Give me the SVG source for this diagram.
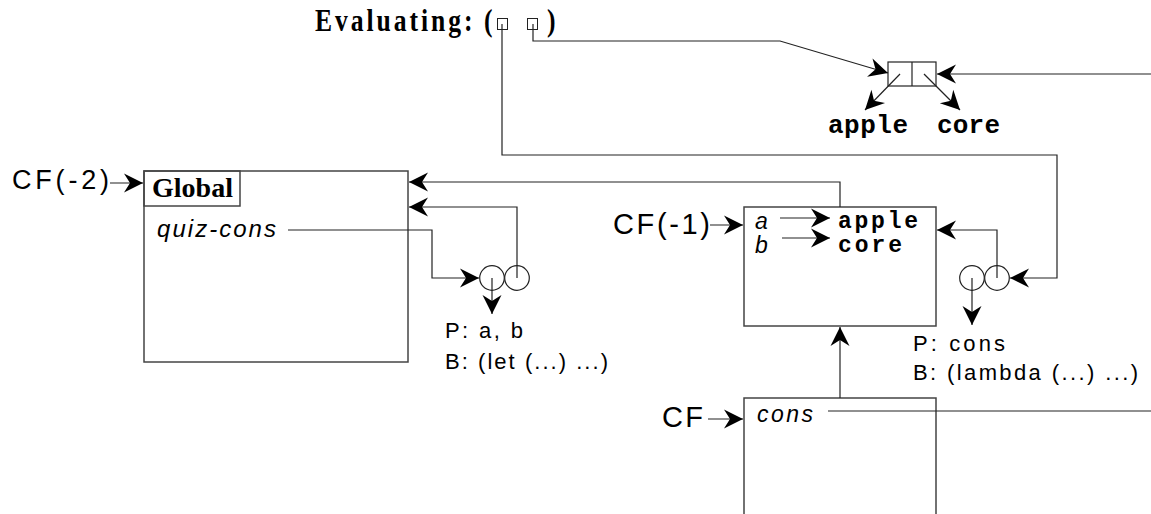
<svg xmlns="http://www.w3.org/2000/svg" width="1151" height="514" viewBox="0 0 1151 514">
<defs>
<marker id="ah" markerUnits="userSpaceOnUse" markerWidth="24" markerHeight="24" refX="21" refY="12" orient="auto">
<path d="M21,12 L2,2.5 L8,12 L2,21.5 Z" fill="#000"/>
</marker>
<style>
.ln{fill:none;stroke:#222;stroke-width:1.2}
.ar{fill:none;stroke:#222;stroke-width:1.2;marker-end:url(#ah)}
.fr{fill:#fff;stroke:#444;stroke-width:1.5}
.sans{font-family:"Liberation Sans",Arial,sans-serif;fill:#000}
.it{font-family:"Liberation Sans",Arial,sans-serif;font-style:italic;fill:#000}
.mono{font-family:"Liberation Mono","Courier New",monospace;font-weight:bold;fill:#000}
.serif{font-family:"Liberation Serif","Times New Roman",serif;font-weight:bold;fill:#000}
</style>
</defs>
<rect width="1151" height="514" fill="#fff"/>

<g id="evaluating">
<text class="serif" transform="translate(315,31) scale(0.8,1)" x="0" y="0" font-size="32" textLength="197" lengthAdjust="spacing">Evaluating:</text>
<text class="serif" transform="translate(484,31) scale(0.8,1)" x="0" y="0" font-size="32">(</text>
<rect x="497.5" y="18.5" width="10" height="11" fill="#fff" stroke="#222" stroke-width="1"/>
<rect x="527.5" y="18.5" width="10" height="11" fill="#fff" stroke="#222" stroke-width="1"/>
<text class="serif" transform="translate(547,31) scale(0.8,1)" x="0" y="0" font-size="32">)</text>
</g>

<g id="conscell">
<rect x="888" y="62" width="48" height="24" fill="#fff" stroke="#222" stroke-width="1.2"/>
<line x1="912" y1="62" x2="912" y2="86" stroke="#222" stroke-width="1.2"/>
<text class="mono" x="828" y="133" font-size="26" textLength="80" lengthAdjust="spacing">apple</text>
<text class="mono" x="937" y="133" font-size="26" textLength="63" lengthAdjust="spacing">core</text>
</g>

<g id="global">
<rect class="fr" x="144" y="171" width="264" height="191"/>
<rect x="144" y="171" width="96" height="35" fill="none" stroke="#444" stroke-width="1.5"/>
<text class="serif" x="152" y="197" font-size="27" textLength="81" lengthAdjust="spacingAndGlyphs">Global</text>
<text class="it" x="157" y="237" font-size="24" textLength="119" lengthAdjust="spacing">quiz-cons</text>
</g>

<g id="cf2label">
<text class="sans" x="12" y="189" font-size="27" textLength="97" lengthAdjust="spacing">CF(-2)</text>
</g>

<g id="proc1">
<circle cx="492" cy="278" r="12.3" fill="#fff" stroke="#222" stroke-width="1.2"/>
<circle cx="517" cy="278" r="12.3" fill="#fff" stroke="#222" stroke-width="1.2"/>
<text class="sans" x="445" y="338" font-size="22" textLength="78" lengthAdjust="spacing">P: a, b</text>
<text class="sans" x="445" y="369" font-size="22" textLength="163" lengthAdjust="spacing">B: (let (...) ...)</text>
</g>

<g id="cf1">
<rect class="fr" x="744" y="207" width="192" height="119"/>
<text class="it" x="755" y="229" font-size="23">a</text>
<text class="it" x="755" y="253" font-size="23">b</text>
<text class="mono" x="838" y="228" font-size="23" textLength="80" lengthAdjust="spacing">apple</text>
<text class="mono" x="838" y="252" font-size="23" textLength="64" lengthAdjust="spacing">core</text>
<text class="sans" x="613" y="234" font-size="29" textLength="97" lengthAdjust="spacing">CF(-1)</text>
</g>

<g id="proc2">
<circle cx="972" cy="278" r="12.3" fill="#fff" stroke="#222" stroke-width="1.2"/>
<circle cx="997" cy="278" r="12.3" fill="#fff" stroke="#222" stroke-width="1.2"/>
<text class="sans" x="913" y="351" font-size="22" textLength="92" lengthAdjust="spacing">P: cons</text>
<text class="sans" x="913" y="380" font-size="22" textLength="225" lengthAdjust="spacing">B: (lambda (...) ...)</text>
</g>

<g id="cf">
<path d="M744,514 V398 H936 V514" fill="none" stroke="#444" stroke-width="1.5"/>
<text class="it" x="757" y="422" font-size="23" textLength="56" lengthAdjust="spacing">cons</text>
<text class="sans" x="662" y="427" font-size="29" textLength="41" lengthAdjust="spacing">CF</text>
</g>

<g id="connectors">
<path class="ar" d="M502,24 V155 H1057 V278 H1010"/>
<path class="ar" d="M533,24 V41 H780 L888,73"/>
<path class="ar" d="M1151,74 H937"/>
<path class="ar" d="M900,74 L865,110"/>
<path class="ar" d="M924,74 L960,110"/>
<path class="ar" d="M110,183 H143"/>
<path class="ar" d="M840,207 V182 H409"/>
<path class="ar" d="M517,278 V207 H409"/>
<path class="ar" d="M288,230 H432 V278 H479"/>
<path class="ar" d="M492,278 V314"/>
<path class="ar" d="M710,225 H743"/>
<path class="ar" d="M780,218 H830"/>
<path class="ar" d="M782,238 H830"/>
<path class="ar" d="M997,278 V230 H937"/>
<path class="ar" d="M972,278 V325"/>
<path class="ar" d="M840,398 V327"/>
<path class="ar" d="M708,419 H743"/>
<path class="ln" d="M828,411 H1151"/>
</g>
</svg>
